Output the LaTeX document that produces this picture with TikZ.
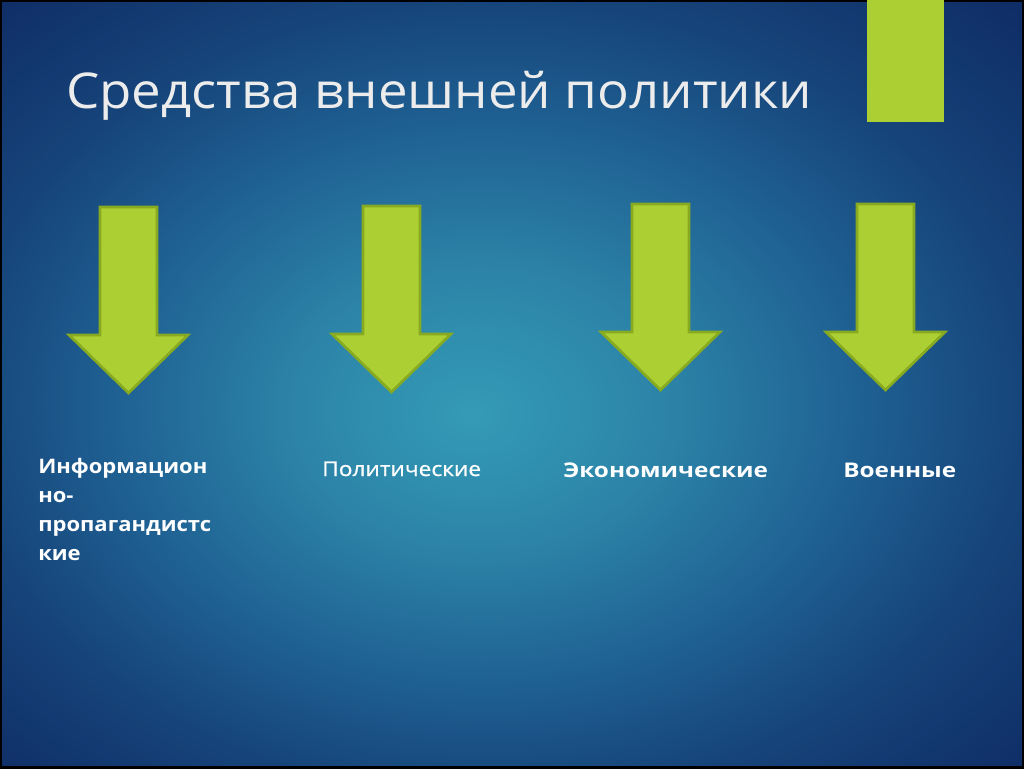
\documentclass[tikz,border=0pt]{standalone}
\usepackage{fontspec}
\setmainfont{Open Sans}
\newfontfamily\titlefont{Open Sans}[FakeStretch=1.07]
\newfontfamily\labelfont{Open Sans}[FakeStretch=1.2]
\newfontfamily\infofont{Open Sans}[FakeStretch=1.1]
\newfontfamily\politfont{Open Sans}[FakeStretch=1.12, FakeBold=0.8]
\usetikzlibrary{positioning}

\definecolor{slidegreen}{RGB}{172,208,52}
\definecolor{arrowedge}{RGB}{136,170,32}
\definecolor{bgA}{RGB}{52,155,182}
\definecolor{bgB}{RGB}{44,132,168}
\definecolor{bgC}{RGB}{31,97,147}
\definecolor{bgD}{RGB}{22,68,122}
\definecolor{bgE}{RGB}{15,44,102}
\definecolor{bgF}{RGB}{12,32,85}
\definecolor{titlegray}{RGB}{236,236,236}

\pgfdeclareradialshading{slideglow}{\pgfpoint{-2bp}{-2bp}}{color(0bp)=(bgA); color(9bp)=(bgB); color(18bp)=(bgC); color(26bp)=(bgD); color(36bp)=(bgE); color(50bp)=(bgF)}

\tikzstyle{titletext} = [inner sep=0, text=titlegray, font=\titlefont\fontsize{37}{44}\selectfont]
\tikzstyle{labeltext} = [inner sep=0, text=white, align=left, font=\labelfont\bfseries\fontsize{15.2}{21.7}\selectfont]
\tikzstyle{infotext} = [inner sep=0, text=white, align=left, font=\infofont\bfseries\fontsize{15}{21.7}\selectfont]
\tikzstyle{labellight} = [inner sep=0, text=white, align=left, font=\politfont\fontsize{15.2}{21.7}\selectfont]
\tikzset{
  greenarrow/.pic={
    \filldraw[fill=slidegreen, draw=arrowedge, line width=2]
      (-28.5,0) -- (28.5,0) -- (28.5,128) -- (59.5,128) -- (0,186)
      -- (-59.5,128) -- (-28.5,128) -- cycle;
  }
}

\begin{document}
\begin{tikzpicture}[x=0.75pt, y=-0.75pt]

        \useasboundingbox (0,0) rectangle (1024,768);
        \shade[shading=slideglow] (0,0) rectangle (1024,768);
        \draw[black, line width=3] (0,0) rectangle (1024,768);

        % Bloque verde superior
        \fill[slidegreen] (867,0) rectangle (944,122);

        \node (title) [titletext, anchor=base west] at (66,108) {Средства внешней политики};

        % Flechas
        \pic (arrInfo) at (128.5,207) {greenarrow};
        \pic (arrPolit) at (391.5,206) {greenarrow};
        \pic (arrEcon) at (660.5,204) {greenarrow};
        \pic (arrMil) at (885.5,204) {greenarrow};

        % Textos (ancla en la linea base de la ultima fila)
        \node (info) [infotext, anchor=base west] at (38,560) {Информацион\\но-\\пропагандистс\\кие};
        \node (polit) [labellight, anchor=base west] at (322,476) {Политические};
        \node (econ) [labeltext, anchor=base west] at (563,477) {Экономические};
        \node (mil) [labeltext, anchor=base west] at (843,477) {Военные};

    \end{tikzpicture}
\end{document}
